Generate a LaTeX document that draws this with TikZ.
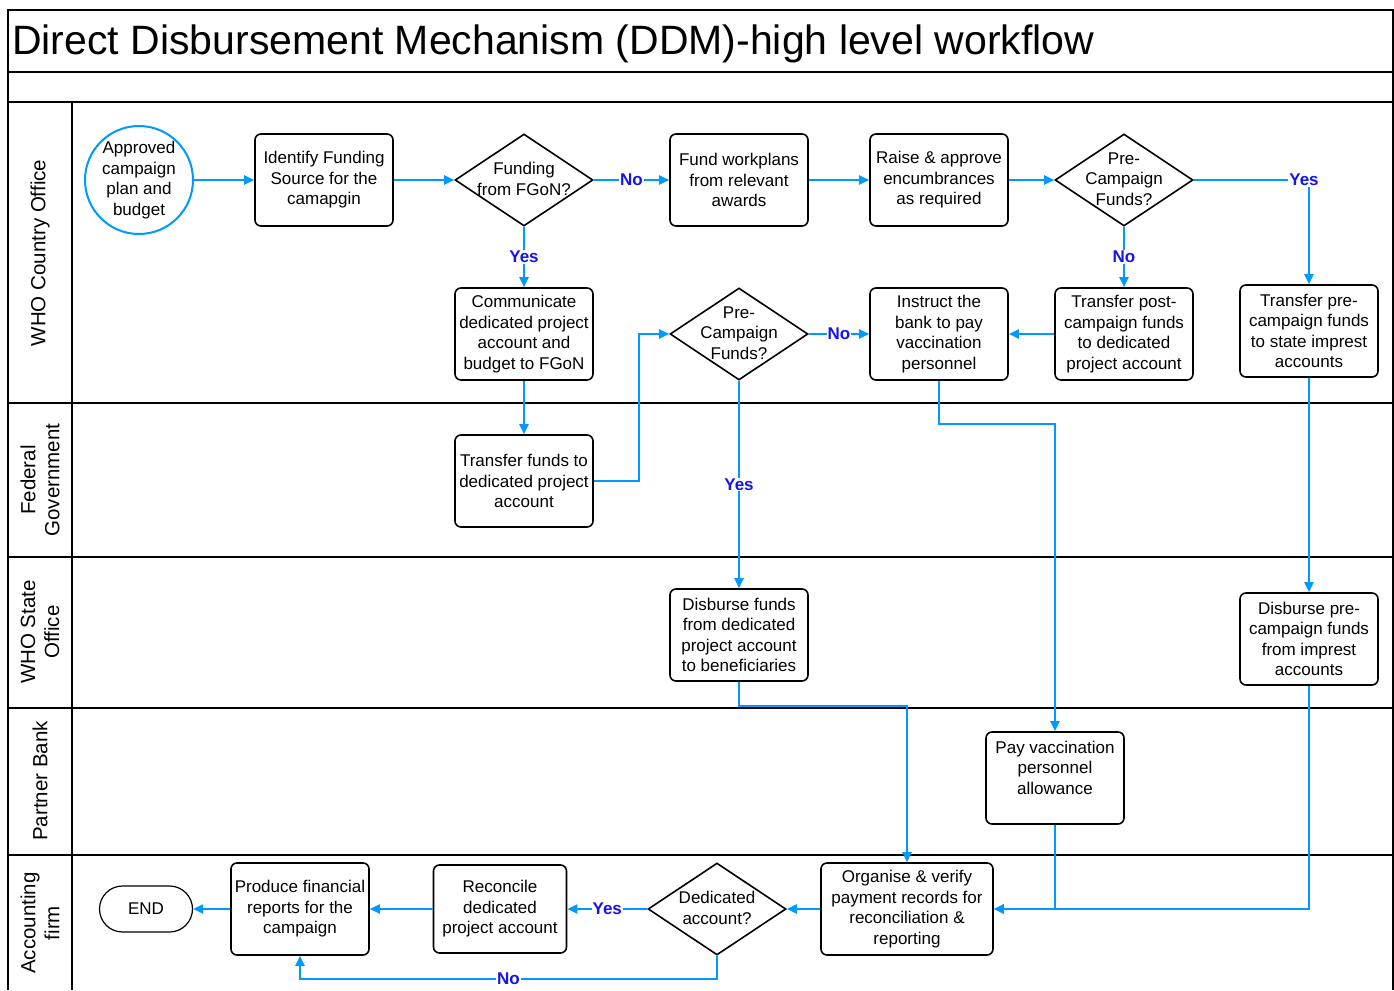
\documentclass[tikz,border=0pt]{standalone}
\usepackage{fontspec}
\setmainfont{Liberation Sans}
\usetikzlibrary{shapes.geometric,arrows.meta,positioning}
\definecolor{flowblue}{RGB}{0,153,255}
\definecolor{ynblue}{RGB}{20,20,235}
% text of a decision, kept out of the diamond's size
\newcommand{\dtext}[1]{\makebox[0pt]{\smash{\raisebox{-0.3em}{\begin{tabular}{@{}c@{}}#1\end{tabular}}}}}

\begin{document}
\begin{tikzpicture}[
    x=1pt, y=-1pt,
    box/.style={rectangle, draw, line width=1.6pt, rounded corners=6pt, minimum width=138pt, minimum height=92pt, inner sep=1pt, align=center, font=\fontsize{17}{20.5}\selectfont},
    decision/.style={diamond, draw, line width=1.6pt, minimum width=138pt, minimum height=92pt, inner sep=0pt, font=\fontsize{17}{20.5}\selectfont},
    startnode/.style={circle, draw=flowblue, line width=2pt, minimum size=108pt, inner sep=0pt, align=center, font=\fontsize{17}{20.5}\selectfont},
    endnode/.style={rectangle, draw, line width=1.2pt, rounded corners=23pt, minimum width=93pt, minimum height=46pt, font=\fontsize{17}{20.5}\selectfont},
    lane/.style={rotate=90, align=center, font=\fontsize{20.5}{24}\selectfont},
    yn/.style={fill=white, inner sep=1pt, text=ynblue, font=\fontsize{17}{20}\selectfont\bfseries},
    arrow/.style={-{Triangle[length=10pt,width=9pt]}, draw=flowblue, line width=2pt},
    frame/.style={line width=2pt}
]
\useasboundingbox (0,0) rectangle (1394,990);

% swimlanes
\draw[frame] (8,990) -- (8,10) -- (1393,10) -- (1393,990);
\foreach \y in {72,102,403,557,708,855}
    \draw[frame] (8,\y) -- (1393,\y);
\draw[frame] (72,102) -- (72,990);

\node[anchor=base west, inner sep=0pt, font=\fontsize{41}{48}\selectfont] (title) at (12,55) {Direct Disbursement Mechanism (DDM)-high level workflow};

\node[lane] (lwco) at (40,253) {WHO Country Office};
\node[lane] (lfed) at (40,480) {Federal\\Government};
\node[lane] (lwso) at (40,632) {WHO State\\Office};
\node[lane] (lbank) at (40,781) {Partner Bank};
\node[lane] (lacc) at (40,923) {Accounting\\firm};

% WHO Country Office
\node[startnode] (start) at (139,180) {Approved\\campaign\\plan and\\budget};
\node[box] (ident) at (324,180) {Identify Funding\\Source for the\\camapgin};
\node[decision] (fgon) at (524,180) {\dtext{Funding\\from FGoN?}};
\node[box] (workplan) at (739,180) {Fund workplans\\from relevant\\awards};
\node[box] (raise) at (939,180) {Raise \& approve\\encumbrances\\as required};
\node[decision] (precamp) at (1124,180) {\dtext{Pre-\\Campaign\\Funds?}};
\node[box] (comm) at (524,334) {Communicate\\dedicated project\\account and\\budget to FGoN};
\node[decision] (precampb) at (739,334) {\dtext{Pre-\\Campaign\\Funds?}};
\node[box] (instruct) at (939,334) {Instruct the\\bank to pay\\vaccination\\personnel};
\node[box] (tpost) at (1124,334) {Transfer post-\\campaign funds\\to dedicated\\project account};
\node[box] (tpre) at (1309,331) {Transfer pre-\\campaign funds\\to state imprest\\accounts};

% Federal Government
\node[box] (tfunds) at (524,481) {Transfer funds to\\dedicated project\\account};

% WHO State Office
\node[box] (disb) at (739,635) {Disburse funds\\from dedicated\\project account\\to beneficiaries};
\node[box] (dpre) at (1309,639) {Disburse pre-\\campaign funds\\from imprest\\accounts};

% Partner Bank
\node[box] (pay) at (1055,778) {Pay vaccination\\personnel\\allowance\\\mbox{}};

% Accounting firm
\node[box, minimum width=172pt] (org) at (907,909) {Organise \& verify\\payment records for\\reconciliation \&\\reporting};
\node[decision] (ded) at (717,909) {\dtext{Dedicated\\account?}};
\node[box, minimum width=133pt, minimum height=88pt] (recon) at (500,909) {Reconcile\\dedicated\\project account};
\node[box] (report) at (300,909) {Produce financial\\reports for the\\campaign};
\node[endnode] (end) at (146,909) {END};

% connectors
\draw[arrow] (start) -- (ident);
\draw[arrow] (ident) -- (fgon);
\draw[arrow] (fgon) -- node[yn] {No} (workplan);
\draw[arrow] (fgon) -- node[yn] {Yes} (comm);
\draw[arrow] (workplan) -- (raise);
\draw[arrow] (raise) -- (precamp);
\draw[arrow] (precamp.east) -| node[yn, pos=0.5, xshift=-5pt] {Yes} (tpre.north);
\draw[arrow] (precamp) -- node[yn] {No} (tpost);
\draw[arrow] (tpost) -- (instruct);
\draw[arrow] (comm) -- (tfunds);
\draw[arrow] (tfunds.east) -- ++(45,0) |- (precampb.west);
\draw[arrow] (precampb) -- node[yn] {No} (instruct);
\draw[arrow] (precampb) -- node[yn] {Yes} (disb);
\draw[arrow] (instruct.south) -- ++(0,43) -| (pay.north);
\draw[arrow] (tpre) -- (dpre);
\draw[arrow] (disb.south) -- ++(0,24) -| (org.north);
\draw[arrow] (pay.south) |- (org.east);
\draw[arrow] (dpre.south) |- (org.east);
\draw[arrow] (org) -- (ded);
\draw[arrow] (ded) -- node[yn] {Yes} (recon);
\draw[arrow] (ded.south) -- ++(0,23) -| node[yn, pos=0.25] {No} (report.south);
\draw[arrow] (recon) -- (report);
\draw[arrow] (report) -- (end);
\end{tikzpicture}
\end{document}
